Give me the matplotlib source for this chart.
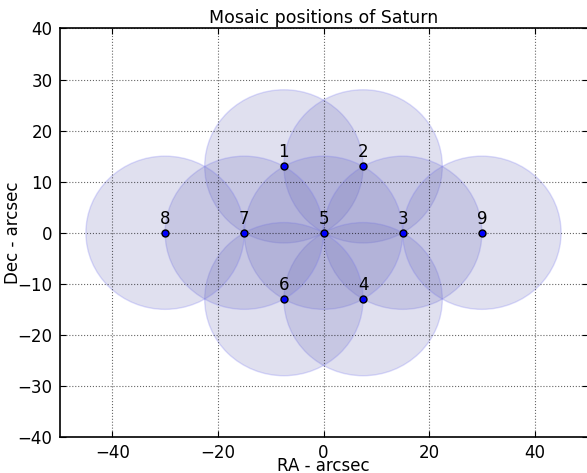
import numpy as np
import matplotlib
matplotlib.use('Agg')
import matplotlib.pyplot as plt
from matplotlib.patches import Circle

labels = ['1', '2', '3', '4', '5', '6', '7', '8', '9']
ra = [-7.5, 7.5, 15, 7.5, 0, -7.5, -15, -30, 30]
dec = [13, 13, 0, -13, 0, -13, 0, 0, 0]
radius = 15

fig = plt.figure(figsize=(5.87, 4.73), dpi=100)
ax = fig.add_axes([59.5/587, 36/473, 528/587, 408.5/473])

for x, y in zip(ra, dec):
    ax.add_patch(Circle((x, y), radius, facecolor=(0.4, 0.4, 0.7, 0.2),
                        edgecolor=(0.45, 0.45, 0.95, 0.25), lw=1))

ax.plot(ra, dec, 'o', color='blue', markeredgecolor='black', markersize=5, mew=1, zorder=5)
for lab, x, y in zip(labels, ra, dec):
    ax.text(x, y + 1.0, lab, ha='center', va='bottom', fontsize=12)

ax.set_xlim(-50, 50)
ax.set_ylim(-40, 40)
ax.set_xticks([-40, -20, 0, 20, 40])
ax.set_yticks(np.arange(-40, 41, 10))
ax.grid(True, color='black', linestyle=':', linewidth=0.8, alpha=0.6)
ax.tick_params(direction='in', top=True, right=True, length=4, labelsize=12, pad=5)
for s in ax.spines.values():
    s.set_linewidth(1.2)
ax.set_xlabel('RA - arcsec', fontsize=12)
ax.set_ylabel('Dec - arcsec', fontsize=12)
ax.xaxis.set_label_coords(0.5, -20 / 408.5)
ax.yaxis.set_label_coords(-37 / 528, 0.5)
ax.set_title('Mosaic positions of Saturn', fontsize=12.5, pad=4)

fig.savefig('out.png', dpi=100)
